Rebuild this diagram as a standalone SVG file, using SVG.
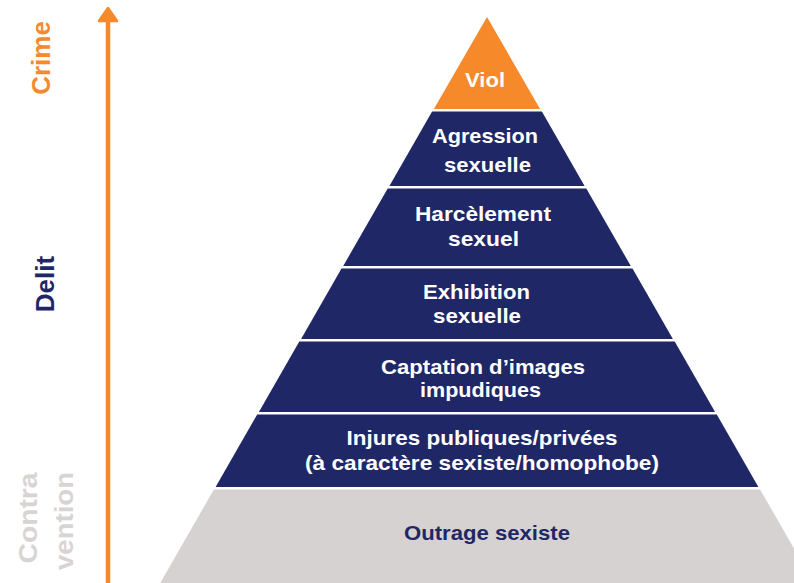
<svg xmlns="http://www.w3.org/2000/svg" width="794" height="583" viewBox="0 0 794 583">
<style>
.navy{fill:#1f2766}
.orange{fill:#f68a2b}
.gray{fill:#d7d2d2}
.lbl{font-family:"Liberation Sans",Arial,sans-serif;font-weight:700;font-size:21px;fill:#ffffff;text-anchor:middle}
.dark{fill:#1f2766}
.axis{font-family:"Liberation Sans",Arial,sans-serif;font-weight:700;font-size:26px;text-anchor:middle}
</style>
<rect width="794" height="583" fill="#ffffff"/>
<g id="connectors">
  <line x1="108" y1="583" x2="108" y2="20" stroke="#f68a2b" stroke-width="4.5"/>
  <polygon points="108,8 99,21 117,21" fill="#f68a2b" stroke="#f68a2b" stroke-width="2.5" stroke-linejoin="round"/>
</g>
<g id="axis-crime">
  <text class="axis" fill="#f68a2b" transform="translate(50,58) rotate(-90)">Crime</text>
</g>
<g id="axis-delit">
  <text class="axis" fill="#1f2766" transform="translate(54,284) rotate(-90)">Delit</text>
</g>
<g id="axis-contravention">
  <text class="axis" fill="#d9d4d4" font-size="27" transform="translate(37,518) rotate(-90)" textLength="91" lengthAdjust="spacingAndGlyphs">Contra</text>
  <text class="axis" fill="#d9d4d4" font-size="27" transform="translate(73,521) rotate(-90)" textLength="98" lengthAdjust="spacingAndGlyphs">vention</text>
</g>
<g id="viol">
  <polygon class="orange" points="487,17 540.1,109 433.9,109"/>
  <text class="lbl" x="485" y="87" textLength="40" lengthAdjust="spacingAndGlyphs">Viol</text>
</g>
<g id="agression">
  <polygon class="navy" points="432.1,111.5 541.9,111.5 584.6,186 389.4,186"/>
  <text class="lbl" x="485" y="143" textLength="106" lengthAdjust="spacingAndGlyphs">Agression</text>
  <text class="lbl" x="487.5" y="172" textLength="87" lengthAdjust="spacingAndGlyphs">sexuelle</text>
</g>
<g id="harcelement">
  <polygon class="navy" points="387.7,188.5 586.3,188.5 630.8,266 343.2,266"/>
  <text class="lbl" x="483" y="221" textLength="136" lengthAdjust="spacingAndGlyphs">Harcèlement</text>
  <text class="lbl" x="483.5" y="246" textLength="71" lengthAdjust="spacingAndGlyphs">sexuel</text>
</g>
<g id="exhibition">
  <polygon class="navy" points="341.5,268.5 632.5,268.5 672.9,339 301.1,339"/>
  <text class="lbl" x="476.5" y="299" textLength="107" lengthAdjust="spacingAndGlyphs">Exhibition</text>
  <text class="lbl" x="477" y="323" textLength="88" lengthAdjust="spacingAndGlyphs">sexuelle</text>
</g>
<g id="captation">
  <polygon class="navy" points="299.3,341.5 674.7,341.5 715.1,412 258.9,412"/>
  <text class="lbl" x="483" y="374" textLength="204" lengthAdjust="spacingAndGlyphs">Captation d’images</text>
  <text class="lbl" x="480.5" y="397" textLength="121" lengthAdjust="spacingAndGlyphs">impudiques</text>
</g>
<g id="injures">
  <polygon class="navy" points="257.2,414.5 716.8,414.5 758.4,487 215.6,487"/>
  <text class="lbl" x="482" y="445" textLength="271" lengthAdjust="spacingAndGlyphs">Injures publiques/privées</text>
  <text class="lbl" x="482" y="470" textLength="354" lengthAdjust="spacingAndGlyphs">(à caractère sexiste/homophobe)</text>
</g>
<g id="outrage">
  <polygon class="gray" points="213.9,489.5 760.1,489.5 813.8,583 160.2,583"/>
  <text class="lbl dark" x="487" y="540" textLength="166" lengthAdjust="spacingAndGlyphs">Outrage sexiste</text>
</g>
</svg>
